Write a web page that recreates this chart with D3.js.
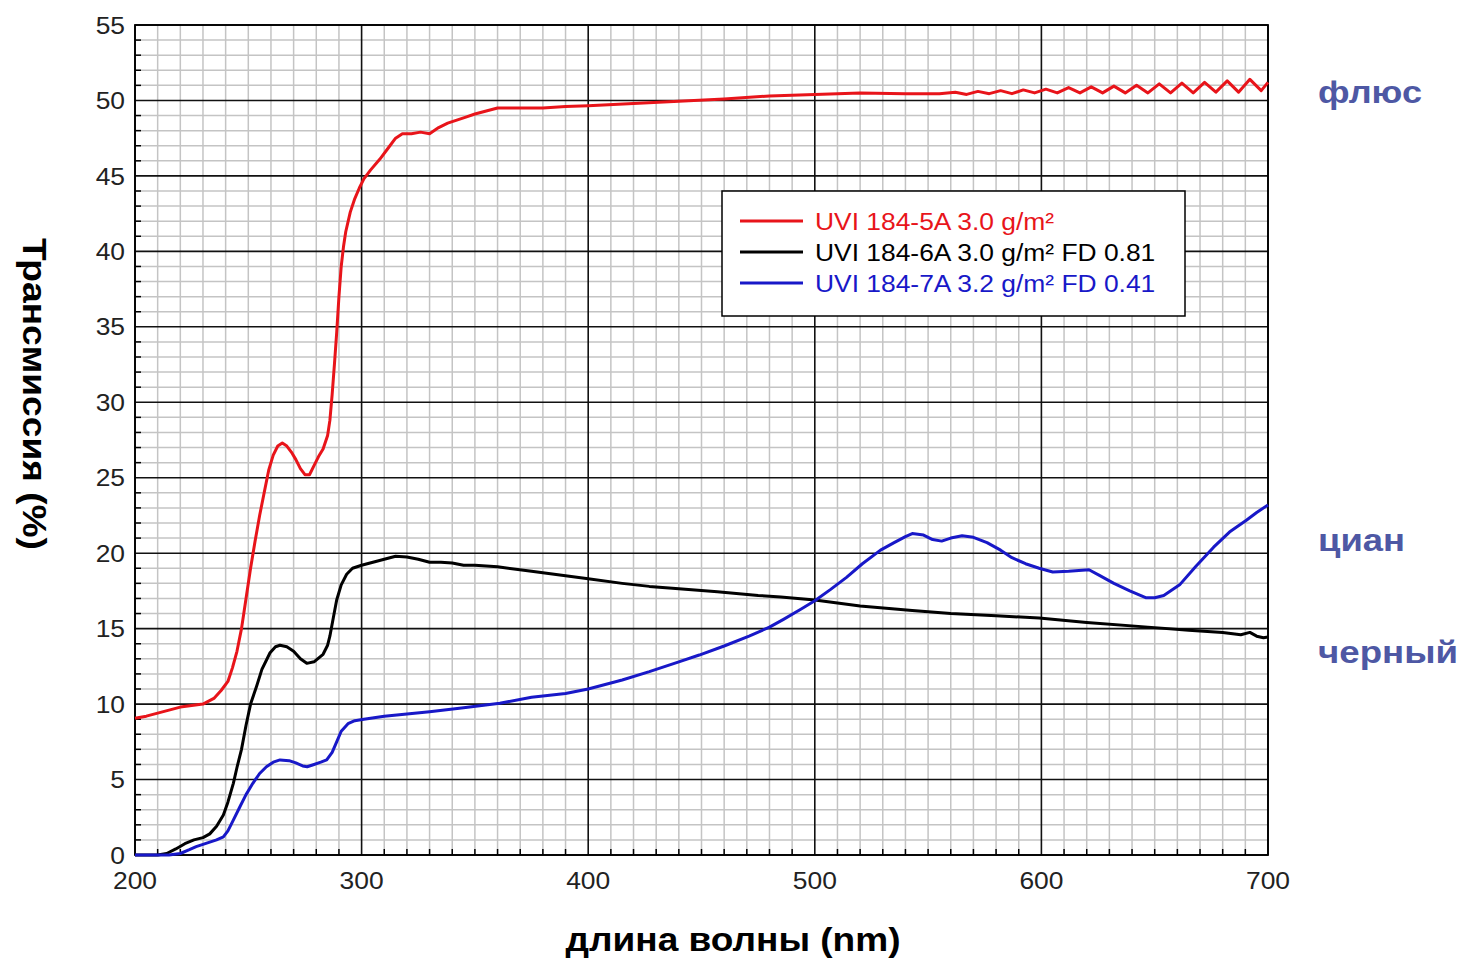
<!DOCTYPE html>
<html>
<head>
<meta charset="utf-8">
<script src="https://cdn.jsdelivr.net/npm/d3@7"></script>
<style>
  body { margin: 0; background: #fff; }
  text { font-family: "Liberation Sans", Arial, sans-serif; }
</style>
</head>
<body>
<svg id="chart" width="1461" height="958"></svg>
<script>
// wavelength (nm), transmission (%)
var fluxData = [[200,9.06],[205,9.2],[210,9.4],[215,9.6],[220,9.8],[225,9.9],[230,10.0],[235,10.4],[238,10.9],[241,11.5],[243,12.4],[245,13.5],[247,15.0],[249,17.0],[251,19.0],[253,20.8],[255,22.5],[257,24.0],[259,25.5],[261,26.5],[263,27.1],[265,27.3],[267,27.1],[269,26.7],[271,26.2],[273,25.6],[275,25.2],[277,25.2],[279,25.8],[281,26.4],[283,26.9],[285,27.8],[286,28.8],[287,30.5],[288,32.5],[289,34.6],[290,37.0],[291,39.0],[292,40.3],[293,41.3],[295,42.6],[297,43.5],[299,44.2],[301,44.8],[304,45.4],[308,46.1],[312,46.9],[315,47.5],[318,47.8],[322,47.8],[326,47.9],[330,47.8],[334,48.2],[338,48.5],[342,48.7],[346,48.9],[350,49.1],[355,49.3],[360,49.5],[370,49.5],[380,49.5],[390,49.6],[400,49.65],[420,49.8],[440,49.95],[460,50.1],[480,50.3],[500,50.4],[520,50.5],[540,50.45],[555,50.45],[562,50.55],[567,50.4],[572,50.6],[577,50.45],[582,50.65],[587,50.45],[592,50.7],[597,50.5],[602,50.75],[607,50.5],[612,50.85],[617,50.5],[622,50.9],[627,50.5],[632,50.95],[637,50.5],[642,51.0],[647,50.5],[652,51.1],[657,50.5],[662,51.15],[667,50.5],[672,51.2],[677,50.55],[682,51.3],[687,50.55],[692,51.4],[697,50.65],[700,51.2]];

var blackData = [[200,0],[210,0],[214,0.1],[218,0.4],[222,0.75],[226,1.0],[230,1.15],[233,1.4],[236,1.9],[239,2.65],[241,3.5],[243.4,4.75],[245,5.8],[247,7.0],[249,8.6],[251,10.0],[253.7,11.2],[256,12.3],[259.6,13.4],[262,13.8],[264,13.9],[267,13.8],[270,13.5],[273,13.0],[275.8,12.7],[279,12.8],[283,13.3],[285,13.9],[286,14.5],[287.5,15.7],[289,16.9],[291,17.9],[293.4,18.6],[296,19.0],[300,19.2],[305,19.4],[310,19.6],[315,19.8],[320,19.75],[325,19.6],[330,19.4],[335,19.4],[340,19.35],[345,19.2],[350,19.2],[360,19.1],[375,18.8],[390,18.5],[400,18.3],[415,18.0],[427,17.8],[440,17.65],[457,17.45],[475,17.2],[485,17.1],[500,16.9],[520,16.5],[543,16.2],[560,16.0],[580,15.85],[599,15.7],[620,15.4],[647,15.1],[665,14.9],[680,14.75],[688,14.6],[692,14.75],[695,14.5],[698,14.4],[700,14.45]];

var cyanData = [[200,0],[215,0],[220,0.1],[224,0.35],[227,0.55],[232,0.8],[236,1.0],[239,1.2],[241,1.6],[243,2.2],[246.3,3.2],[249,4.0],[252,4.75],[255,5.4],[258,5.85],[261,6.15],[264,6.3],[268,6.25],[271,6.1],[274,5.9],[276,5.85],[279,6.0],[282,6.15],[284.6,6.3],[287,6.8],[289,7.5],[291,8.2],[294,8.7],[297,8.9],[301,9.0],[310,9.2],[320,9.35],[330,9.5],[345,9.75],[361,10.05],[375,10.45],[390,10.7],[400,11.0],[415,11.6],[427,12.15],[440,12.8],[449,13.25],[460,13.85],[471,14.5],[480,15.1],[486,15.6],[494,16.3],[500,16.85],[507,17.6],[514,18.4],[521,19.3],[529,20.2],[535,20.7],[540,21.1],[543,21.3],[548,21.2],[552,20.9],[556,20.8],[560,21.0],[565,21.15],[570,21.05],[576,20.7],[582,20.2],[587,19.7],[593,19.3],[599,19.0],[605,18.75],[612,18.8],[621,18.9],[626,18.5],[632,18.0],[639,17.5],[646,17.05],[650,17.05],[654,17.2],[661,17.9],[668,19.1],[676,20.4],[683,21.4],[690.6,22.2],[695,22.7],[700,23.2]];

var seriesNames = ["UVI 184-5A 3.0 g/m²", "UVI 184-6A 3.0 g/m² FD 0.81", "UVI 184-7A 3.2 g/m² FD 0.41"];
var seriesColors = ["#e8141a", "#000000", "#1818c8"];
var sideLabels = ["флюс", "циан", "черный"];

var xTicks = [200, 300, 400, 500, 600, 700];
var yTicks = [0, 5, 10, 15, 20, 25, 30, 35, 40, 45, 50, 55];

var svg = d3.select('#chart');
var plotL = 135, plotR = 1268, plotT = 25, plotB = 855;

var x = d3.scaleLinear().domain([200, 700]).range([plotL, plotR]);
var y = d3.scaleLinear().domain([0, 55]).range([plotB, plotT]);

// minor grid
var minorX = d3.range(200, 701, 10).filter(d => d % 100 != 0);
var minorY = d3.range(0, 56, 1).filter(d => d % 5 != 0);
svg.append('g').selectAll('line').data(minorX).enter().append('line')
  .attr('x1', d => x(d)).attr('x2', d => x(d)).attr('y1', plotT).attr('y2', plotB)
  .attr('stroke', '#c4c4c4').attr('stroke-width', 1.5);
svg.append('g').selectAll('line').data(minorY).enter().append('line')
  .attr('y1', d => y(d)).attr('y2', d => y(d)).attr('x1', plotL).attr('x2', plotR)
  .attr('stroke', '#c4c4c4').attr('stroke-width', 1.5);

// minor ticks, inside
svg.append('g').selectAll('line').data(minorY).enter().append('line')
  .attr('y1', d => y(d)).attr('y2', d => y(d)).attr('x1', plotL).attr('x2', plotL + 6)
  .attr('stroke', '#000').attr('stroke-width', 1.5);
svg.append('g').selectAll('line').data(minorX).enter().append('line')
  .attr('x1', d => x(d)).attr('x2', d => x(d)).attr('y1', plotB).attr('y2', plotB - 6)
  .attr('stroke', '#000').attr('stroke-width', 1.5);

// major grid
svg.append('g').selectAll('line').data(xTicks).enter().append('line')
  .attr('x1', d => x(d)).attr('x2', d => x(d)).attr('y1', plotT).attr('y2', plotB)
  .attr('stroke', '#111').attr('stroke-width', 1.6);
svg.append('g').selectAll('line').data(yTicks).enter().append('line')
  .attr('y1', d => y(d)).attr('y2', d => y(d)).attr('x1', plotL).attr('x2', plotR)
  .attr('stroke', '#111').attr('stroke-width', 1.6);

svg.append('rect').attr('x', plotL).attr('y', plotT).attr('width', plotR - plotL).attr('height', plotB - plotT)
  .attr('fill', 'none').attr('stroke', '#000').attr('stroke-width', 1.8);

// tick labels (source image is stretched a bit horizontally)
svg.append('g').selectAll('g').data(yTicks).enter().append('g')
  .attr('transform', d => 'translate(' + (plotL - 10) + ',' + y(d) + ') scale(1.1,1)')
  .append('text').attr('text-anchor', 'end').attr('dy', '0.36em')
  .attr('font-size', 24).attr('fill', '#222').text(d => d);
svg.append('g').selectAll('g').data(xTicks).enter().append('g')
  .attr('transform', d => 'translate(' + x(d) + ',' + (plotB + 34) + ') scale(1.1,1)')
  .append('text').attr('text-anchor', 'middle')
  .attr('font-size', 24).attr('fill', '#222').text(d => d);

// curves
var line = d3.line().x(d => x(d[0])).y(d => y(d[1]));
[fluxData, blackData, cyanData].forEach(function(data, i) {
  svg.append('path').datum(data).attr('d', line)
    .attr('fill', 'none').attr('stroke', seriesColors[i])
    .attr('stroke-width', 3).attr('stroke-linejoin', 'round');
});

// legend
var legend = svg.append('g');
legend.append('rect').attr('x', 722).attr('y', 191).attr('width', 463).attr('height', 125)
  .attr('fill', '#fff').attr('stroke', '#000').attr('stroke-width', 1.5);
var lg = legend.selectAll('g.item').data(seriesNames).enter().append('g')
  .attr('class', 'item')
  .attr('transform', (d, i) => 'translate(740,' + (221 + i * 31) + ')');
lg.append('line').attr('x1', 0).attr('x2', 63).attr('y1', 0).attr('y2', 0)
  .attr('stroke', (d, i) => seriesColors[i]).attr('stroke-width', 2.8);
lg.append('g').attr('transform', 'translate(75,0) scale(1.1,1)')
  .append('text').attr('dy', '0.36em').attr('font-size', 24)
  .attr('fill', (d, i) => seriesColors[i]).text(d => d);

// axis titles
svg.append('text').attr('x', 733).attr('y', 951).attr('text-anchor', 'middle')
  .attr('font-size', 33).attr('font-weight', 'bold').attr('textLength', 335)
  .attr('lengthAdjust', 'spacingAndGlyphs').text('длина волны (nm)');
svg.append('text').attr('transform', 'translate(23,394) rotate(90)').attr('text-anchor', 'middle')
  .attr('font-size', 33).attr('font-weight', 'bold').attr('textLength', 312)
  .attr('lengthAdjust', 'spacingAndGlyphs').text('Трансмиссия (%)');

// side labels
var sideWidths = [104, 87, 140];
svg.append('g').selectAll('text').data(sideLabels).enter().append('text')
  .attr('x', 1318).attr('y', (d, i) => [103, 551, 663][i])
  .attr('font-size', 32).attr('font-weight', 'bold').attr('fill', '#4e58a4')
  .attr('textLength', (d, i) => sideWidths[i]).attr('lengthAdjust', 'spacingAndGlyphs')
  .text(d => d);
</script>
</body>
</html>
